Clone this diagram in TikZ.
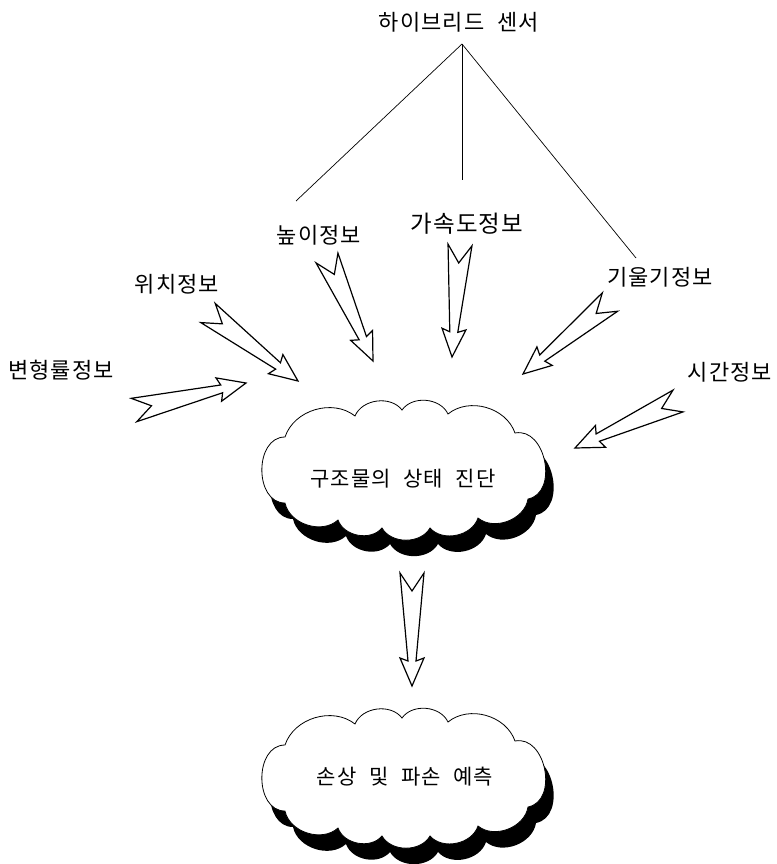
\documentclass[tikz,border=0pt]{standalone}
\usepackage{fontspec}
\newfontfamily\kr[LetterSpace=5,WordSpace=2.2]{Noto Sans CJK KR}
\usetikzlibrary{calc}
\tikzset{
  lbl/.style={font=\kr\fontsize{22}{25}\selectfont, inner sep=0pt},
  biglbl/.style={font=\kr\fontsize{23.5}{26}\selectfont, inner sep=0pt},
  clbl/.style={font=\kr\fontsize{21}{24}\selectfont, inner sep=0pt},
  bolt/.style={draw=black, fill=white, line width=1.2pt, line join=miter},
  wire/.style={draw=black, line width=0.7pt},
  cloudline/.style={draw=black, fill=white, line width=0.8pt},
  cloudshadow/.style={fill=black},
  cloudpath/.pic={
    \path[pic actions] (285,503) to[bend left=90,looseness=1.2] (285,437)
      to[bend left=55] (355,416) to[bend left=60] (402,410)
      to[bend left=60] (448,414) to[bend left=55] (515,433)
      to[bend left=90,looseness=1.2] (528,499)
      to[bend left=60] (478,518) to[bend left=60] (430,528)
      to[bend left=60] (382,528) to[bend left=60] (338,520)
      to[bend left=60] (285,503) -- cycle;
  }
}
\newcommand\boltarrow[2]{%
  \draw[bolt] ($(#1)!12pt!90:(#2)$) -- ($(#1)!18pt!(#2)$) -- ($(#1)!12pt!-90:(#2)$)
   -- ($(#2)!25pt!(#1)!4pt!90:(#1)$) -- ($(#2)!28pt!(#1)!12pt!90:(#1)$) -- (#2)
   -- ($(#2)!28pt!(#1)!12pt!-90:(#1)$) -- ($(#2)!25pt!(#1)!4pt!-90:(#1)$) -- cycle;}
\begin{document}
\begin{tikzpicture}[x=1pt,y=-1pt]
\useasboundingbox (0,0) rectangle (776,864);
% clouds
\pic[cloudshadow] at (8,16) {cloudpath};
\pic[cloudline] at (0,0) {cloudpath};
\pic[cloudshadow] at (8,324) {cloudpath};
\pic[cloudline] at (0,308) {cloudpath};
% labels
\node[lbl] (sensor) at (459,22) {하이브리드 센서};
\node[lbl] (height) at (319,235) {높이정보};
\node[biglbl] (acc) at (467,224) {가속도정보};
\node[lbl] (pos) at (177,284) {위치정보};
\node[lbl] (tilt) at (660,277) {기울기정보};
\node[lbl] (strain) at (61,370) {변형률정보};
\node[lbl] (time) at (730,372) {시간정보};
\node[clbl] (diag) at (403,479) {구조물의 상태 진단};
\node[clbl] (pred) at (405,777) {손상 및 파손 예측};
% hub lines
\coordinate (hub) at (462,44);
\coordinate (hL) at (296,201);
\coordinate (hM) at (462,180);
\coordinate (hR) at (636,258);
\draw[wire] (hub) -- (hL);
\draw[wire] (hub) -- (hM);
\draw[wire] (hub) -- (hR);
% arrow endpoints
\coordinate (posT) at (208,313);   \coordinate (posH) at (298,381);
\coordinate (heiT) at (327,258);   \coordinate (heiH) at (373,361);
\coordinate (accT) at (460,245);   \coordinate (accH) at (452,357);
\coordinate (tilT) at (610,302);   \coordinate (tilH) at (523,374);
\coordinate (strT) at (134,410);   \coordinate (strH) at (246,383);
\coordinate (timT) at (678,401);   \coordinate (timH) at (575,448);
\coordinate (dwnT) at (412,573);   \coordinate (dwnH) at (412,686);
\boltarrow{posT}{posH}
\boltarrow{heiT}{heiH}
\boltarrow{accT}{accH}
\boltarrow{tilT}{tilH}
\boltarrow{strT}{strH}
\boltarrow{timT}{timH}
\boltarrow{dwnT}{dwnH}
\end{tikzpicture}
\end{document}
